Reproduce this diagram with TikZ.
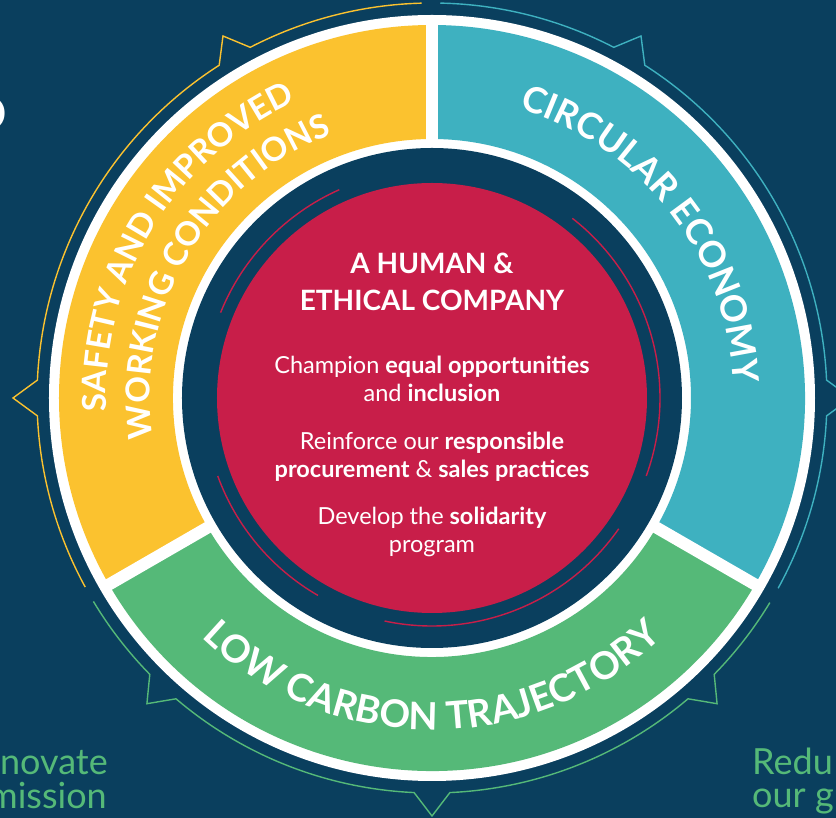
\documentclass[tikz,border=0pt]{standalone}
\usepackage{fontspec}
\setmainfont{Lato}
\usetikzlibrary{decorations.text,positioning}
\definecolor{navy}{HTML}{0A3F5E}
\definecolor{sunny}{HTML}{FBC22F}
\definecolor{lagoon}{HTML}{3EB1C0}
\definecolor{leaf}{HTML}{55B978}
\definecolor{berry}{HTML}{C81E49}
\newcommand{\ringfont}[1]{\fontsize{#1}{#1}\selectfont\bfseries\color{white}}
\tikzset{
  band/.style      = {line width=1.4pt, line join=miter},
  gap/.style       = {white, line width=12pt},
  halo/.style      = {berry, line width=1.4pt},
  headline/.style  = {white, align=center, anchor=base, font=\fontsize{28pt}{37pt}\selectfont\bfseries},
  goal/.style      = {white, align=center, anchor=base, font=\fontsize{23.5pt}{28pt}\selectfont},
  edgetext/.style  = {leaf, inner sep=0pt, font=\fontsize{36pt}{36pt}\selectfont},
  ringlabel/.style = {decorate, decoration={text along path, text align=center, text={#1}}},
}

\begin{document}
\begin{tikzpicture}[x=1pt,y=1pt]
  \useasboundingbox (-432,-420) rectangle (404,398);
  \fill[navy] (-432,-420) rectangle (404,398);

  % outer guide lines with their small pointers
  \draw[band, sunny] (91.5:395) arc[start angle=91.5, end angle=117.4, radius=395pt]
    -- (120:418) -- (122.6:395) arc[start angle=122.6, end angle=177.4, radius=395pt]
    -- (180:419) -- (182.6:395) arc[start angle=182.6, end angle=208.6, radius=395pt];
  \draw[band, lagoon] (88.8:395) arc[start angle=88.8, end angle=62.6, radius=395pt]
    -- (60:418) -- (57.4:395) arc[start angle=57.4, end angle=2.6, radius=395pt]
    -- (0:419) -- (-2.6:395) arc[start angle=-2.6, end angle=-28.8, radius=395pt];
  \draw[band, leaf] (211:395) arc[start angle=211, end angle=224.4, radius=395pt]
    -- (227:418) -- (229.6:395) arc[start angle=229.6, end angle=267.4, radius=395pt]
    -- (270:418) -- (272.6:395) arc[start angle=272.6, end angle=310.4, radius=395pt]
    -- (313:418) -- (315.6:395) arc[start angle=315.6, end angle=328.8, radius=395pt];

  % the ring
  \fill[white] (0,0) circle[radius=383pt];
  \fill[sunny] (90:259) -- (90:373) arc[start angle=90, end angle=210, radius=373pt]
    -- (210:259) arc[start angle=210, end angle=90, radius=259pt] -- cycle;
  \fill[lagoon] (-30:259) -- (-30:373) arc[start angle=-30, end angle=90, radius=373pt]
    -- (90:259) arc[start angle=90, end angle=-30, radius=259pt] -- cycle;
  \fill[leaf] (210:259) -- (210:373) arc[start angle=210, end angle=330, radius=373pt]
    -- (330:259) arc[start angle=330, end angle=210, radius=259pt] -- cycle;
  \foreach \a in {90,210,330}
    \draw[gap] (\a:250) -- (\a:380);
  \fill[navy] (0,0) circle[radius=250pt];

  % centre disc and its broken rim
  \fill[berry] (0,0) circle[radius=215pt];
  \draw[halo] (114:228) arc[start angle=114, end angle=158, radius=228pt];
  \draw[halo] (200:228) arc[start angle=200, end angle=240, radius=228pt];
  \draw[halo] (258:228) arc[start angle=258, end angle=325, radius=228pt];
  \draw[halo] (-20:228) arc[start angle=-20, end angle=52, radius=228pt];

  % ring labels
  \path[ringlabel={|\ringfont{33pt}|SAFETY AND IMPROVED}]
    (205:326) arc[start angle=205, end angle=92, radius=326pt];
  \path[ringlabel={|\ringfont{33pt}|WORKING CONDITIONS}]
    (205:282) arc[start angle=205, end angle=94, radius=282pt];
  \path[ringlabel={|\ringfont{36pt}|CIRCULAR ECONOMY}]
    (88:302) arc[start angle=88, end angle=-12, radius=302pt];
  \path[ringlabel={|\ringfont{38pt}|LOW CARBON TRAJECTORY}]
    (220:332) arc[start angle=220, end angle=320, radius=332pt];

  % centre text, placed by the baseline of each last line
  \node[headline] (title) at (0,87) {A HUMAN \&\\ETHICAL COMPANY};
  \node[goal] (equal) at (0,-4) {Champion \textbf{equal opportunities}\\and \textbf{inclusion}};
  \node[goal] (buying) at (0,-80) {Reinforce our \textbf{responsible}\\\textbf{procurement} \& \textbf{sales practices}};
  \node[goal] (share) at (0,-155) {Develop the \textbf{solidarity}\\program};

  % text running off the edges
  \node[white, inner sep=0pt, anchor=base east, font=\fontsize{62pt}{62pt}\selectfont\bfseries] (cut) at (-425,268) {o};
  \node[edgetext, anchor=base east] (left1) at (-324,-377) {novate};
  \node[edgetext, anchor=base east] (left2) at (-325,-411) {mission};
  \node[edgetext, anchor=base west] (right1) at (320,-377) {Redu};
  \node[edgetext, anchor=base west] (right2) at (320,-410) {our g};
\end{tikzpicture}
\end{document}
